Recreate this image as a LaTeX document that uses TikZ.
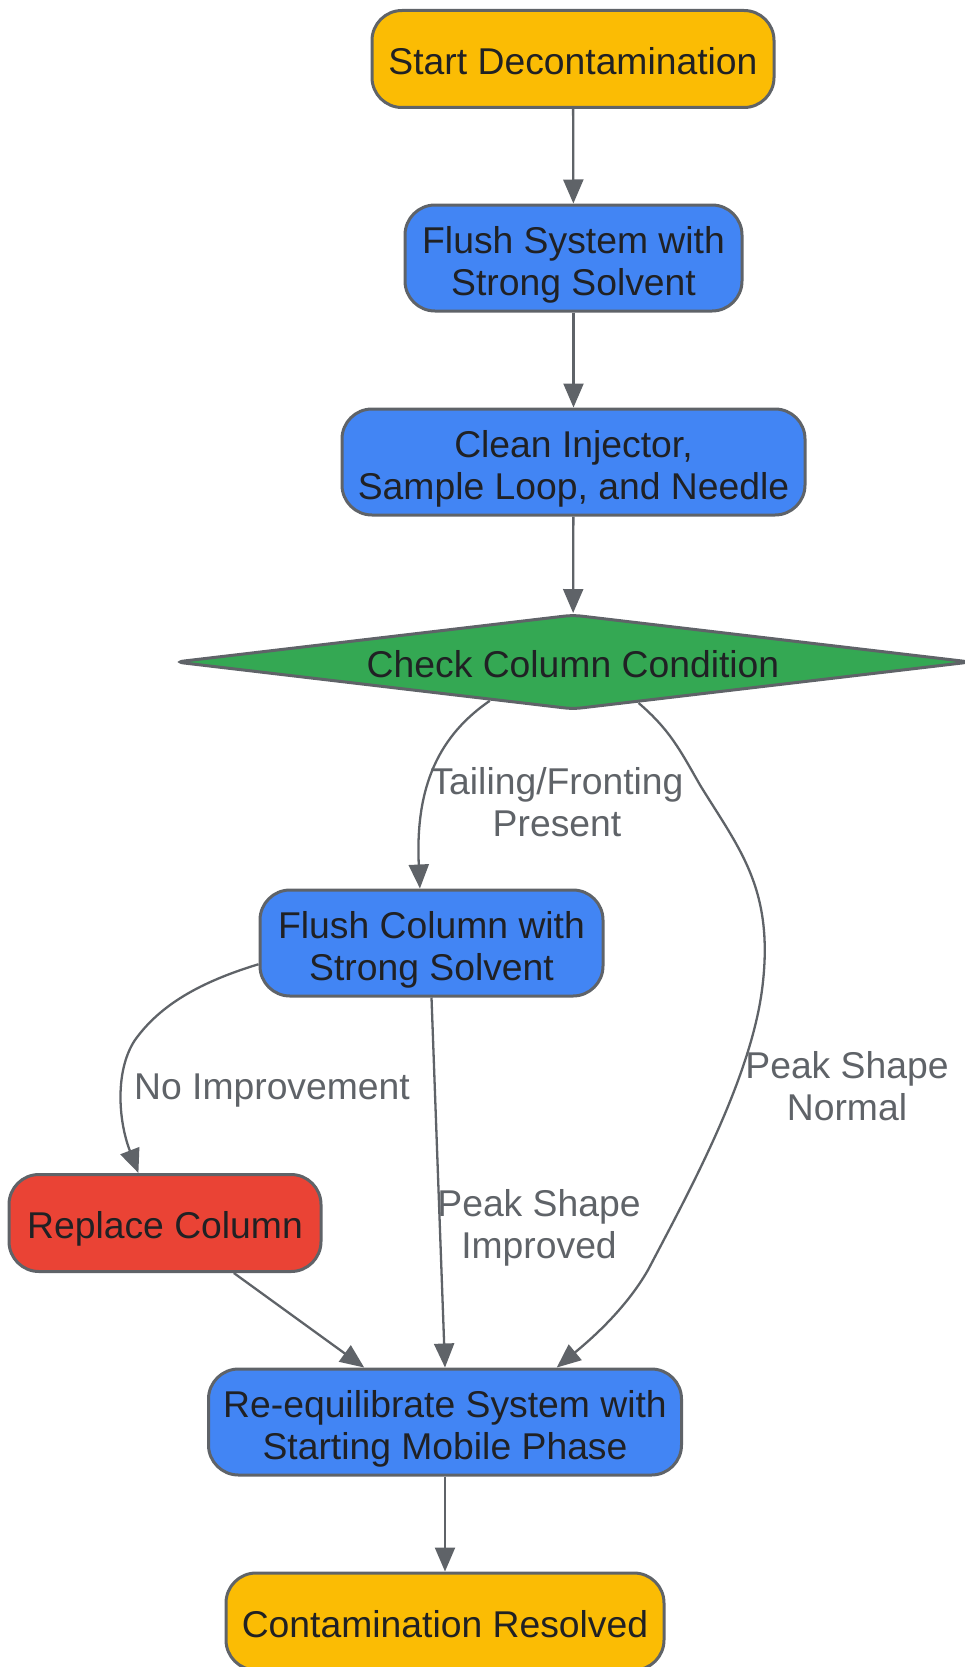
\documentclass[tikz,border=0pt]{standalone}
\usepackage{fontspec}
\setmainfont{Liberation Sans}
\usetikzlibrary{arrows.meta,shapes.geometric}
\definecolor{cyellow}{HTML}{FBBC04}
\definecolor{cblue}{HTML}{4285F4}
\definecolor{cgreen}{HTML}{34A853}
\definecolor{cred}{HTML}{EA4335}
\definecolor{cborder}{HTML}{5F6368}
\definecolor{ctext}{HTML}{202124}
\definecolor{clabel}{HTML}{5F6368}
\tikzset{
  box/.style={draw=cborder, line width=3pt, rounded corners=30pt, align=center,
    text=ctext, inner sep=0pt, font=\fontsize{37.3}{42.5}\selectfont},
  one/.style={text height=31pt, text depth=0pt},
  two/.style={text height=75pt, text depth=0pt},
  dia/.style={draw=cborder, line width=3pt, shape=diamond, aspect=8.38, rounded corners=8pt,
    fill=cgreen, text=ctext, inner sep=0pt, minimum width=796pt, minimum height=95pt,
    font=\fontsize{37.3}{42.5}\selectfont, one},
  conn/.style={draw=cborder, line width=2.3pt, -{Triangle[length=24pt,width=20pt]}},
  lbl/.style={text=clabel, align=center, inner sep=0pt, font=\fontsize{37.3}{42.5}\selectfont},
  lone/.style={text height=26.7pt, text depth=0pt},
  ltwo/.style={text height=69.2pt, text depth=0pt}
}
\begin{document}
\begin{tikzpicture}[x=1pt,y=-1pt]
\useasboundingbox (0,0) rectangle (964,1667);
\node[box, one, fill=cyellow, minimum width=402pt, minimum height=97pt] (start) at (573,59) {Start Decontamination};
\node[box, two, fill=cblue, minimum width=337pt, minimum height=106pt] (fs) at (573.5,258) {Flush System with\\Strong Solvent};
\node[box, two, fill=cblue, minimum width=463pt, minimum height=106pt] (cl) at (573.5,462) {Clean Injector,\\Sample Loop, and Needle};
\node[dia] (chk) at (573,662) {Check Column Condition};
\node[box, two, fill=cblue, minimum width=343pt, minimum height=106pt] (fc) at (431.5,943) {Flush Column with\\Strong Solvent};
\node[box, one, fill=cred, minimum width=312pt, minimum height=97pt] (rep) at (165,1223) {Replace Column};
\node[box, two, fill=cblue, minimum width=473pt, minimum height=106pt] (req) at (445,1422) {Re-equilibrate System with\\Starting Mobile Phase};
\node[box, one, fill=cyellow, minimum width=438pt, minimum height=97pt] (res) at (445,1621.5) {Contamination Resolved};

\draw[conn] (start) -- (fs);
\draw[conn] (fs) -- (cl);
\draw[conn] (cl) -- (chk);
\draw[conn] (chk.-155) .. controls (440,735) and (415,785) .. (fc.102);
\draw[conn] (chk.-32) .. controls (670,730) and (680,750) .. (700,785)
  .. controls (740,850) and (775,890) .. (762,990)
  .. controls (750,1080) and (690,1190) .. (648,1270)
  .. controls (625,1310) and (590,1340) .. (req.26);
\draw[conn] (fc.-173) .. controls (200,982) and (160,1005) .. (135,1040)
  .. controls (115,1070) and (118,1120) .. (rep.118);
\draw[conn] (fc.south) -- (req.north);
\draw[conn] (rep.-36) -- (req.146);
\draw[conn] (req) -- (res);

\node[lbl, ltwo] (l1) at (557,802) {Tailing/Fronting\\Present};
\node[lbl, ltwo] (l2) at (847,1086) {Peak Shape\\Normal};
\node[lbl, lone] (l3) at (272,1086) {No Improvement};
\node[lbl, ltwo] (l4) at (539,1224) {Peak Shape\\Improved};
\end{tikzpicture}
\end{document}
